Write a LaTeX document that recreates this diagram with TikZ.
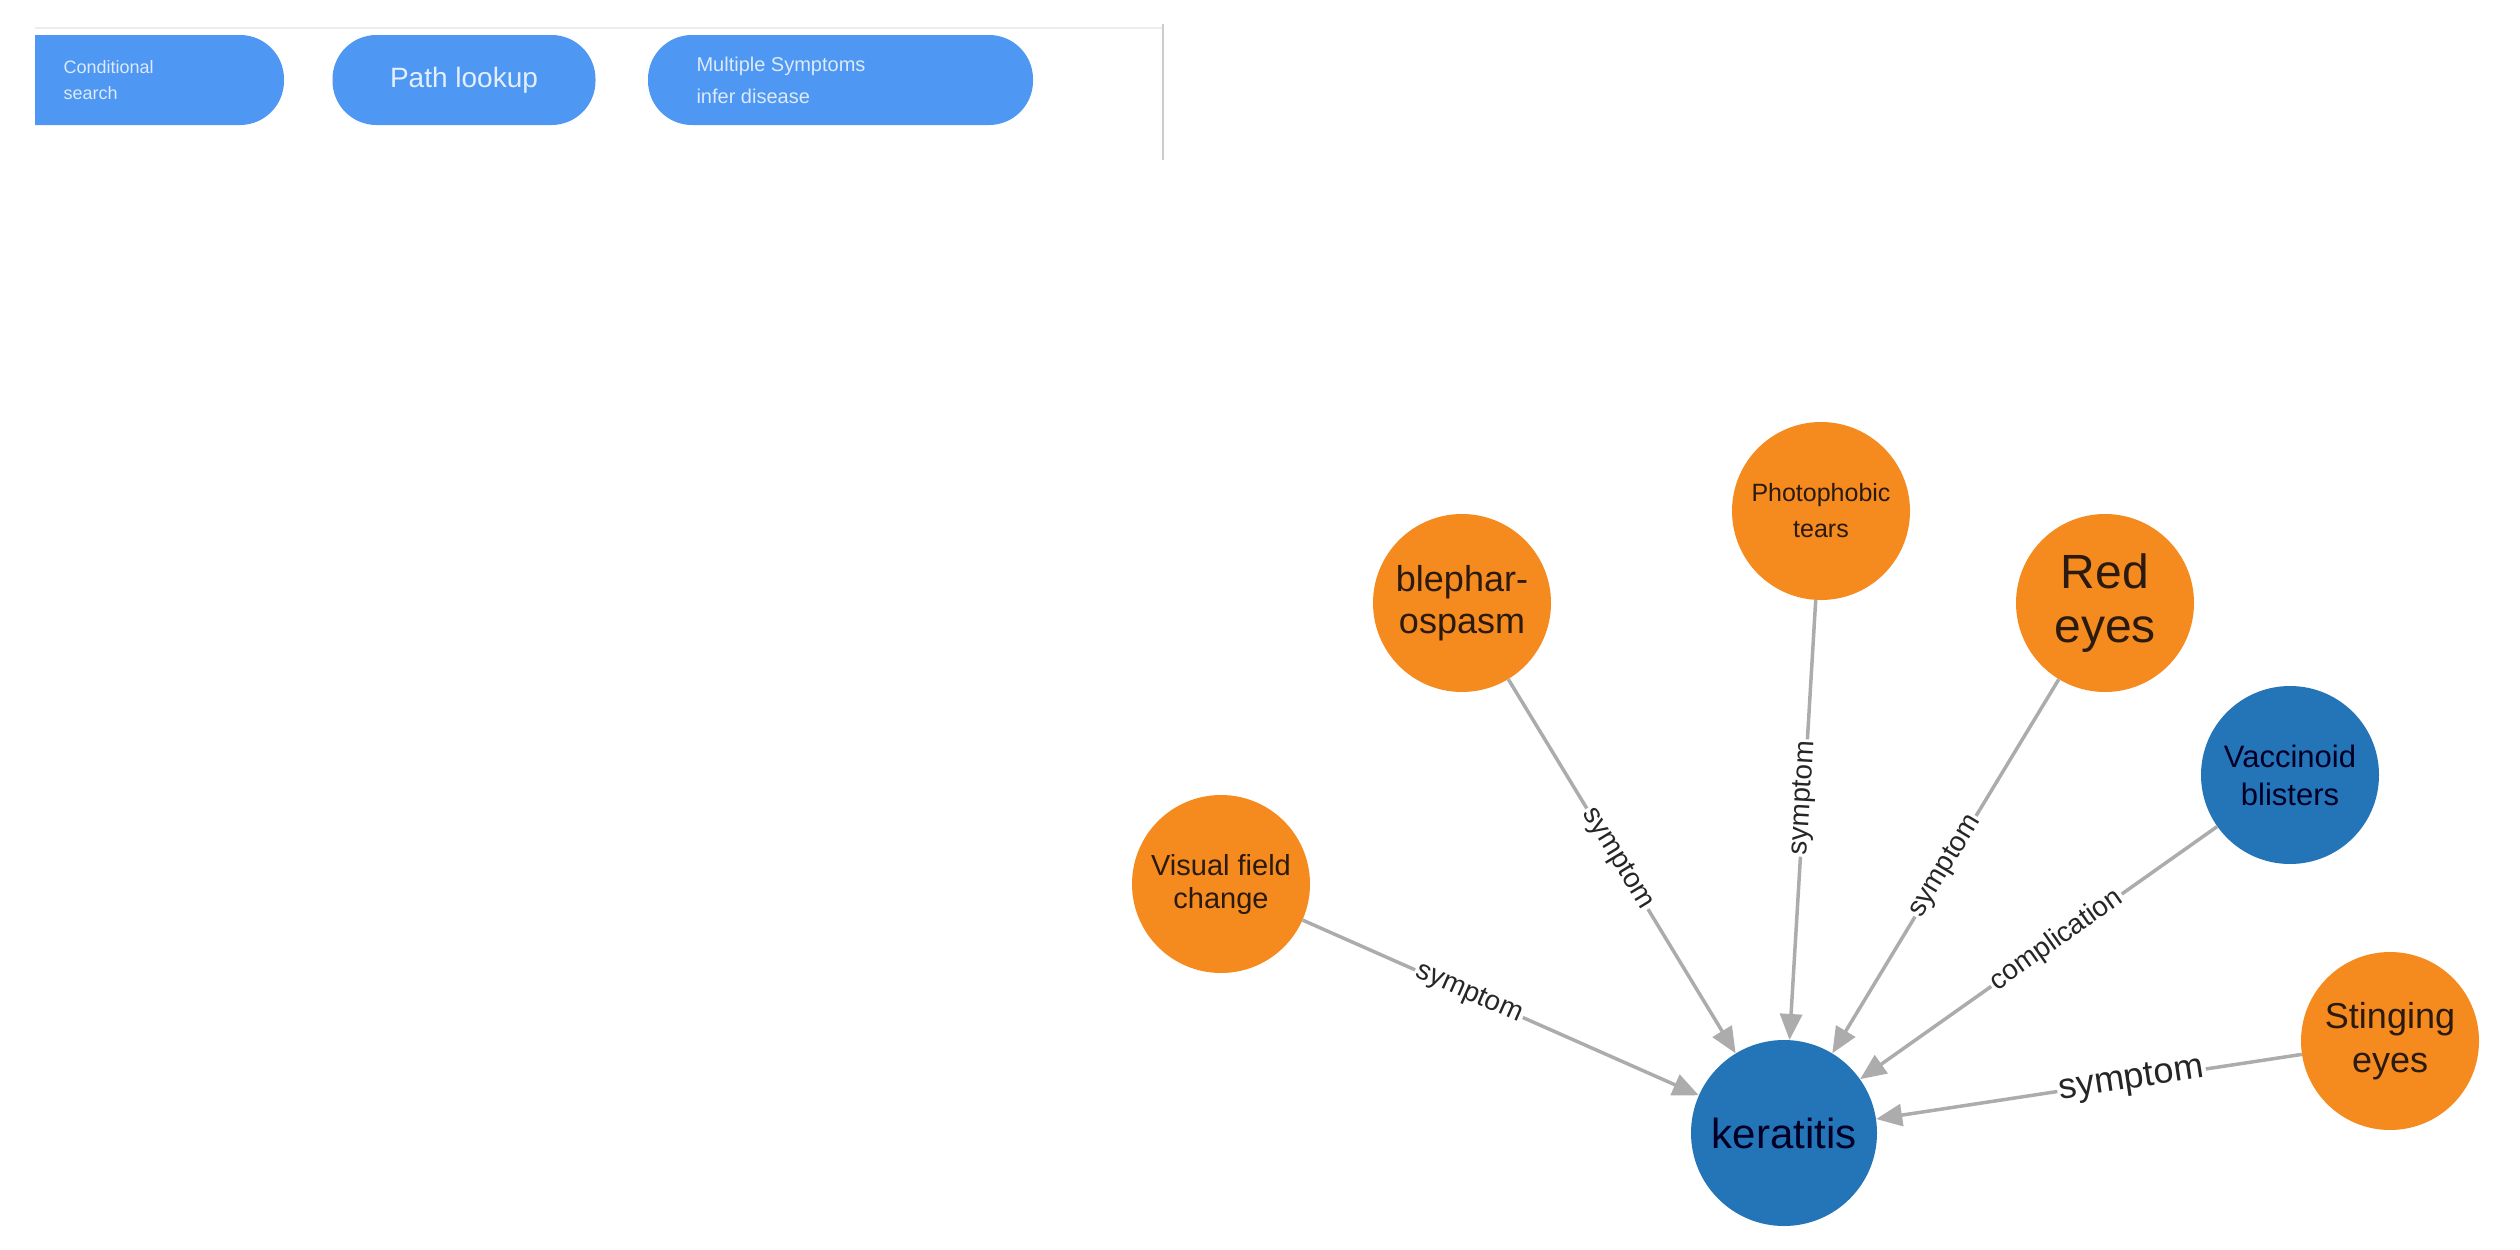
\documentclass[tikz,border=0pt]{standalone}
\usepackage{fontspec}
\setmainfont{Liberation Sans}
\usetikzlibrary{arrows.meta}
\definecolor{org}{HTML}{F58A1F}
\definecolor{blu}{HTML}{2474B8}
\definecolor{btn}{HTML}{4E97F2}
\definecolor{txt}{HTML}{2A1A10}
\begin{document}
\begin{tikzpicture}[x=1pt,y=-1pt,
  ent/.style={circle,minimum size=178pt,inner sep=2pt,align=center,text=txt,font=\fontsize{29}{33}\selectfont},
  onode/.style={ent,fill=org},
  bnode/.style={ent,fill=blu,text=black!85!blue},
  rel/.style={draw=gray!65,line width=3.5pt,-{Triangle[length=26pt,width=22pt]}},
  lab/.style={sloped,fill=white,inner sep=2pt,text=black!85,font=\fontsize{28}{32}\selectfont},
  button/.style={fill=btn,rounded corners=44pt,text=white!85!btn,align=left,inner sep=0pt}]
\useasboundingbox (0,0) rectangle (2520,1250);
\draw[gray!15,line width=2pt] (35,28) -- (1163,28);
\draw[gray!40,line width=1.5pt] (1163,24) -- (1163,160);
\begin{scope}
\clip (35,0) rectangle (2520,200);
\fill[btn,rounded corners=44pt] (-20,35) rectangle (284,125);
\end{scope}
\node[text=white!80!btn,align=left,anchor=west,font=\fontsize{18}{26}\selectfont] (b1) at (60,80) {Conditional\\search};
\node[button,minimum width=263pt,minimum height=90pt,font=\fontsize{28}{32}\selectfont,align=center] (b2) at (464,80) {Path lookup};
\fill[btn,rounded corners=44pt] (648,35) rectangle (1033,125);
\node[text=white!80!btn,align=left,anchor=west,font=\fontsize{20}{32}\selectfont] (b3) at (693,80) {Multiple Symptoms\\infer disease};

\node[bnode,font=\fontsize{42}{46}\selectfont,minimum size=186pt] (k) at (1784,1133) {keratitis};
\node[onode] (v) at (1221,884) {Visual field\\change};
\node[onode,font=\fontsize{36}{42}\selectfont] (bl) at (1462,603) {blephar-\\ospasm};
\node[onode,font=\fontsize{25}{36}\selectfont] (p) at (1821,511) {Photophobic\\tears};
\node[onode,font=\fontsize{48}{54}\selectfont] (r) at (2105,603) {Red\\eyes};
\node[bnode,font=\fontsize{31}{38}\selectfont] (va) at (2290,775) {Vaccinoid\\blisters};
\node[onode,font=\fontsize{36}{44}\selectfont] (s) at (2390,1041) {Stinging\\eyes};

\draw[rel] (v) -- node[lab,pos=0.42]{symptom} (k);
\draw[rel] (bl) -- node[lab,pos=0.48]{symptom} (k);
\draw[rel] (p) -- node[lab,pos=0.45]{symptom} (k);
\draw[rel] (r) -- node[lab,pos=0.5]{symptom} (k);
\draw[rel] (va) -- node[lab,pos=0.45]{complication} (k);
\draw[rel] (s) -- node[lab,pos=0.4,font=\fontsize{36}{40}\selectfont]{symptom} (k);
\end{tikzpicture}
\end{document}
